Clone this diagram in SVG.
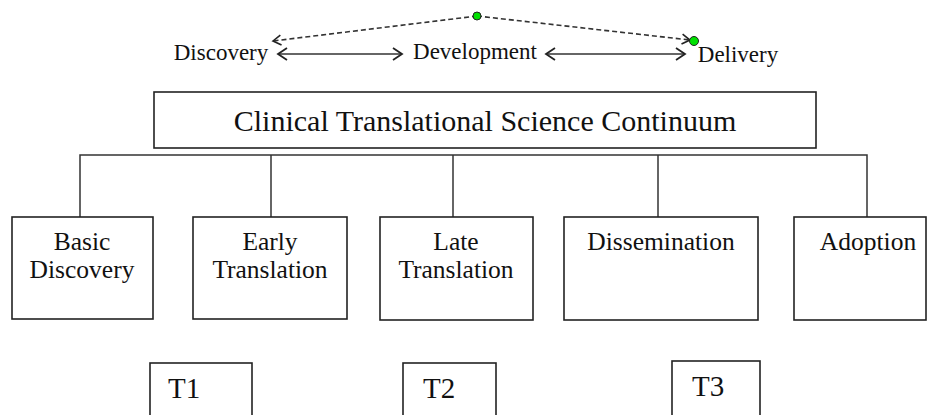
<svg xmlns="http://www.w3.org/2000/svg" width="935" height="415" viewBox="0 0 935 415">
<style>
.box{fill:#fff;stroke:#222;stroke-width:1.6}
.t{font-family:"Liberation Serif","Times New Roman",serif;fill:#111;text-anchor:middle}
.top{font-size:23px}
.bx{font-size:25.5px}
.tt{font-size:29px;text-anchor:start}
.ln{fill:none;stroke:#333;stroke-width:1.5}
.dash{fill:none;stroke:#333;stroke-width:1.6;stroke-dasharray:5 3}
.dot{fill:#00e000;stroke:#222;stroke-width:1}
</style>
<defs>
<marker id="ah" markerUnits="userSpaceOnUse" markerWidth="14" markerHeight="16" refX="11" refY="7" orient="auto-start-reverse">
<path d="M2,1 L11,7 L2,13" fill="none" stroke="#222" stroke-width="1.8"/>
</marker>
<marker id="ahd" markerUnits="userSpaceOnUse" markerWidth="12" markerHeight="14" refX="10" refY="6" orient="auto">
<path d="M2,1 L10,6 L2,11" fill="none" stroke="#222" stroke-width="1.6"/>
</marker>
</defs>
<rect width="935" height="415" fill="#fff"/>
<g id="connectors">
<line class="ln" x1="278" y1="54" x2="402" y2="54" marker-start="url(#ah)" marker-end="url(#ah)"/>
<line class="ln" x1="546" y1="54" x2="685" y2="54" marker-start="url(#ah)" marker-end="url(#ah)"/>
<line class="dash" x1="477" y1="16" x2="273" y2="41" marker-end="url(#ahd)"/>
<line class="dash" x1="477" y1="16" x2="690" y2="40" marker-end="url(#ahd)"/>
<path class="ln" d="M80,217 V155 H867 V217"/>
<line class="ln" x1="271" y1="155" x2="271" y2="217"/>
<line class="ln" x1="453" y1="155" x2="453" y2="217"/>
<line class="ln" x1="658" y1="155" x2="658" y2="217"/>
</g>
<g id="dot-top"><circle class="dot" cx="477" cy="16" r="4"/></g>
<g id="dot-right"><circle class="dot" cx="694" cy="41" r="4.5"/></g>
<g id="label-discovery"><text class="t top" x="221" y="60">Discovery</text></g>
<g id="label-development"><text class="t top" x="475" y="59">Development</text></g>
<g id="label-delivery"><text class="t top" x="738" y="62">Delivery</text></g>
<g id="continuum">
<rect class="box" x="154" y="92" width="662" height="56"/>
<text class="t" style="font-size:30px" x="485" y="131">Clinical Translational Science Continuum</text>
</g>
<g id="basic-discovery">
<rect class="box" x="12" y="217" width="141" height="102"/>
<text class="t bx" x="82" y="250">Basic</text>
<text class="t bx" x="82" y="278">Discovery</text>
</g>
<g id="early-translation">
<rect class="box" x="193" y="217" width="154" height="102"/>
<text class="t bx" x="270" y="250">Early</text>
<text class="t bx" x="270" y="278">Translation</text>
</g>
<g id="late-translation">
<rect class="box" x="380" y="217" width="153" height="103"/>
<text class="t bx" x="456" y="250">Late</text>
<text class="t bx" x="456" y="278">Translation</text>
</g>
<g id="dissemination">
<rect class="box" x="564" y="217" width="194" height="103"/>
<text class="t bx" x="661" y="250">Dissemination</text>
</g>
<g id="adoption">
<rect class="box" x="794" y="217" width="132" height="103"/>
<text class="t bx" x="868" y="250">Adoption</text>
</g>
<g id="t1">
<rect class="box" x="150" y="363" width="102" height="60"/>
<text class="t tt" x="168" y="398">T1</text>
</g>
<g id="t2">
<rect class="box" x="403" y="363" width="93" height="60"/>
<text class="t tt" x="423" y="398">T2</text>
</g>
<g id="t3">
<rect class="box" x="672" y="361" width="88" height="62"/>
<text class="t tt" x="692" y="396">T3</text>
</g>
</svg>
